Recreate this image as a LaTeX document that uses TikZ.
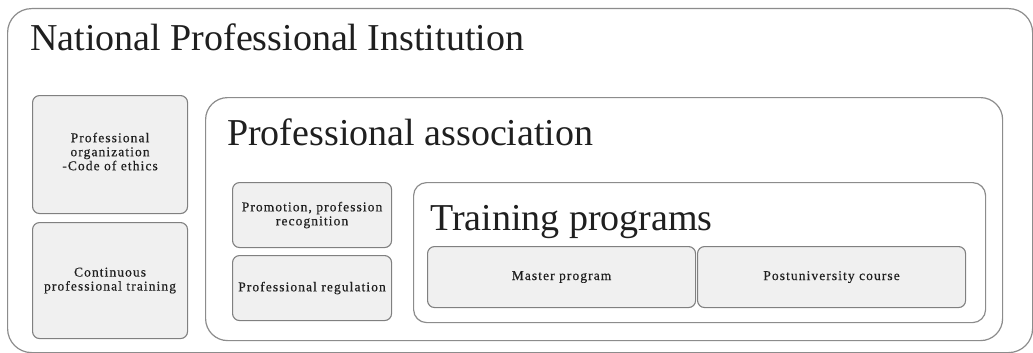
\documentclass[tikz,border=0pt]{standalone}
\usepackage{fontspec}
\setmainfont{Liberation Serif}
\newfontfamily\smallfont[LetterSpace=8,FakeBold=0.4]{Liberation Serif}
\begin{document}
\begin{tikzpicture}[x=1pt,y=-1pt,
  frame/.style={draw=black!45, line width=1.2pt, fill=white, anchor=north west, inner sep=0pt},
  cell/.style={draw=black!50, line width=1.1pt, fill=black!6, anchor=north west, inner sep=0pt, rounded corners=7pt},
  label/.style={align=center, inner sep=0pt, text=black!88, font=\smallfont\fontsize{13.5}{14}\selectfont},
  title/.style={anchor=base west, inner sep=0pt, text=black!88, font=\fontsize{38}{40}\selectfont}]
\useasboundingbox (0,0) rectangle (1033,353);
\fill[white] (0,0) rectangle (1033,353);
% outer
\node[frame, rounded corners=24pt, minimum width=1025pt, minimum height=344pt] (npi) at (7,8) {};
\node[title] (npit) at (30,51) {National Professional Institution};
% left column
\node[cell, minimum width=155pt, minimum height=118pt] (org) at (32,95) {};
\node[label] (orgt) at ([yshift=3pt]org.center) {Professional\\organization\\-Code of ethics};
\node[cell, minimum width=155pt, minimum height=116pt] (cpt) at (32,222) {};
\node[label] (cptt) at (cpt.center) {Continuous\\professional training};
% professional association
\node[frame, rounded corners=22pt, minimum width=797pt, minimum height=243pt] (pa) at (205,97) {};
\node[title] (pat) at (227,145) {Professional association};
\node[cell, minimum width=159pt, minimum height=65pt] (prom) at (232,182) {};
\node[label] (promt) at (prom.center) {Promotion, profession\\recognition};
\node[cell, minimum width=159pt, minimum height=65pt] (reg) at (232,255) {};
\node[label] (regt) at (reg.center) {Professional regulation};
% training programs
\node[frame, rounded corners=13pt, minimum width=572pt, minimum height=140pt] (tp) at (413,182) {};
\node[title] (tpt) at (430,230) {Training programs};
\node[cell, minimum width=268pt, minimum height=61pt] (mp) at (427,246) {};
\node[label] (mpt) at (mp.center) {Master program};
\node[cell, minimum width=268pt, minimum height=61pt] (pu) at (697,246) {};
\node[label] (put) at (pu.center) {Postuniversity course};
\end{tikzpicture}
\end{document}
